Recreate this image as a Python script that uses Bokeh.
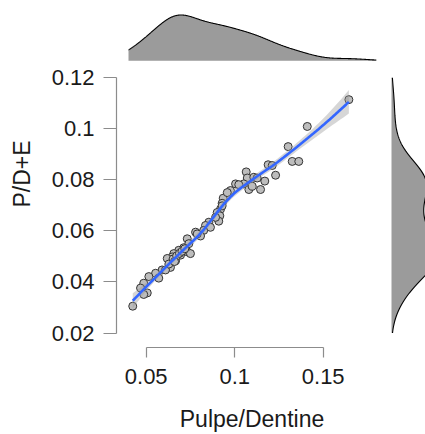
import numpy as np
from bokeh.plotting import figure
from bokeh.layouts import row
from bokeh.models import Range1d, FixedTicker, CustomJSTickFormatter
from bokeh.embed import file_html
from bokeh.resources import INLINE

# ---- data (last few are overlapped points in the dense cluster) ----
pulpe_dentine = [0.0424, 0.1645, 0.1410, 0.1302, 0.1325, 0.1362, 0.1189, 0.1212, 0.1231, 0.1170,
                 0.1146, 0.1065, 0.1071, 0.1108, 0.1051, 0.1080, 0.1005, 0.0976, 0.0935, 0.0929,
                 0.0920, 0.0901, 0.0916, 0.0910, 0.0854, 0.0835, 0.0825, 0.0779, 0.0807, 0.0732,
                 0.0741, 0.0712, 0.0732, 0.0684, 0.0656, 0.0647, 0.0619, 0.0666, 0.0637, 0.0590,
                 0.0553, 0.0571, 0.0515, 0.0486, 0.0468, 0.0506, 0.0486, 0.0609, 0.0750, 0.0788,
                 0.0863, 0.0892, 0.0929, 0.0958, 0.1023, 0.1099, 0.1127, 0.0694,
                 0.0628, 0.0652, 0.0672, 0.0688, 0.0702, 0.0718, 0.0660]
pde = [0.0305, 0.1114, 0.1009, 0.0930, 0.0872, 0.0872, 0.0859, 0.0856, 0.0818, 0.0795,
       0.0762, 0.0831, 0.0807, 0.0810, 0.0784, 0.0762, 0.0784, 0.0758, 0.0728, 0.0708,
       0.0685, 0.0672, 0.0659, 0.0638, 0.0634, 0.0621, 0.0602, 0.0595, 0.0580, 0.0569,
       0.0550, 0.0534, 0.0518, 0.0524, 0.0511, 0.0498, 0.0492, 0.0483, 0.0457, 0.0447,
       0.0434, 0.0415, 0.0421, 0.0395, 0.0376, 0.0357, 0.0351, 0.0447, 0.0511, 0.0588,
       0.0614, 0.0653, 0.0698, 0.0750, 0.0781, 0.0775, 0.0807, 0.0505,
       0.0470, 0.0490, 0.0502, 0.0512, 0.0520, 0.0530, 0.0480]
x_ticks = [0.05, 0.1, 0.15]
y_ticks = [0.02, 0.04, 0.06, 0.08, 0.1, 0.12]
x_limits = (0.04, 0.18)
y_limits = (0.02, 0.12)

x = np.array(pulpe_dentine)
y = np.array(pde)
n = len(x)

# ---- loess smooth (span 0.75, degree 2) with standard error band ----
def lvec(x0, span=0.75):
    q = int(np.floor(n * span))
    d = np.abs(x - x0)
    h = np.sort(d)[q - 1]
    u = np.clip(d / h, 0, 1)
    w = (1 - u ** 3) ** 3
    X = np.column_stack([np.ones(n), x - x0, (x - x0) ** 2])
    XtW = X.T * w
    return np.linalg.solve(XtW @ X, XtW)[0]

L = np.array([lvec(v) for v in x])
R = np.eye(n) - L
delta1 = np.trace(R.T @ R)
res = y - L @ y
s = np.sqrt((res ** 2).sum() / delta1)
xg = np.linspace(x.min(), x.max(), 80)
Lg = np.array([lvec(v) for v in xg])
fit = Lg @ y
se = s * np.sqrt((Lg ** 2).sum(axis=1))
tq = 2.0

# ---- kernel densities (nrd0 bandwidth) ----
def kde(v, grid):
    sd = v.std(ddof=1)
    iqr = np.subtract(*np.percentile(v, [75, 25]))
    bw = 0.9 * min(sd, iqr / 1.34) * len(v) ** -0.2
    z = (grid[:, None] - v[None, :]) / bw
    return np.exp(-0.5 * z ** 2).sum(axis=1) / (len(v) * bw * np.sqrt(2 * np.pi))

gx = np.linspace(x_limits[0], x_limits[1], 512)
dx = kde(x, gx)
gy = np.linspace(y_limits[0], y_limits[1], 512)
dy = kde(y, gy)

FONT = "Liberation Sans"
W_MAIN, W_RIGHT, H = 387, 38, 434
LEFT, BOTTOM = 116, 82
frame_w = W_MAIN - LEFT
frame_h = H - BOTTOM

# pixel scale: 0.05 units of x = 88.5 px ; 0.02 units of y = 51.8 px
kx = 88.5 / 0.05
ky = 51.8 / 0.02
x0 = x_limits[0] - 12 / kx
x1 = x0 + frame_w / kx
ytop_px = 78.3  # distance from frame top to y=0.12
y1 = y_limits[1] + ytop_px / ky
y0 = y1 - frame_h / ky

p = figure(width=W_MAIN, height=H, output_backend="svg", toolbar_location=None,
           x_range=Range1d(x0, x1), y_range=Range1d(y0, y1),
           min_border_left=LEFT, min_border_bottom=BOTTOM, min_border_top=0, min_border_right=0,
           background_fill_color="white", border_fill_color="white")
p.outline_line_color = None
p.grid.visible = False

# top marginal density in its own vertical range
peak_h = 46.3
base_from_top = 61.0
sx = peak_h / dx.max()
p.extra_y_ranges = {"top": Range1d(-(frame_h - base_from_top) / sx, base_from_top / sx)}
p.varea(x=gx, y1=0, y2=dx, fill_color="#9b9b9b", y_range_name="top")
p.line(gx, dx, line_color="black", line_width=1.1, y_range_name="top")

# points
p.scatter(x, y, size=8, fill_color="#bdbdbd", line_color="#333333", line_width=1)
# smooth
p.varea(x=xg, y1=fit - tq * se, y2=fit + tq * se, fill_color="#999999", fill_alpha=0.4)
p.line(xg, fit, line_color="#3366FF", line_width=2.6)

fmt = CustomJSTickFormatter(code="return String(Number(tick.toFixed(4)));")
for ax, ticks in ((p.xaxis[0], x_ticks), (p.yaxis[0], y_ticks)):
    ax.ticker = FixedTicker(ticks=ticks)
    ax.formatter = fmt
    ax.bounds = (ticks[0], ticks[-1])
    ax.axis_line_color = "#8c8c8c"
    ax.major_tick_line_color = "#8c8c8c"
    ax.axis_line_width = 1.2
    ax.major_tick_line_width = 1.2
    ax.minor_tick_line_color = None
    ax.major_tick_in = 0
    ax.major_label_text_font = FONT
    ax.major_label_text_font_size = "22px"
    ax.major_label_text_color = "#1a1a1a"
    ax.axis_label_text_font = FONT
    ax.axis_label_text_font_size = "23px"
    ax.axis_label_text_font_style = "normal"
    ax.axis_label_text_color = "#1a1a1a"
p.xaxis.major_tick_out = 10
p.yaxis.major_tick_out = 13
p.xaxis.major_label_standoff = 11
p.yaxis.major_label_standoff = 9
p.xaxis.axis_label = "Pulpe/Dentine"
p.yaxis.axis_label = "P/D+E"
p.xaxis.axis_label_standoff = 19
p.yaxis.axis_label_standoff = 14

# right marginal density
p2 = figure(width=W_RIGHT, height=H, output_backend="svg", toolbar_location=None,
            y_range=p.y_range, x_axis_location=None, y_axis_location=None,
            min_border_left=0, min_border_bottom=BOTTOM, min_border_top=0, min_border_right=0,
            background_fill_color="white", border_fill_color="white")
sy = peak_h / dy.max()
p2.x_range = Range1d(-4 / sy, (W_RIGHT - 4) / sy)
p2.outline_line_color = None
p2.grid.visible = False
p2.harea(y=gy, x1=0, x2=dy, fill_color="#9b9b9b")
p2.line(dy, gy, line_color="black", line_width=1.1)

layout = row(p, p2, spacing=0)
open("out.html", "w").write(file_html(layout, INLINE))
